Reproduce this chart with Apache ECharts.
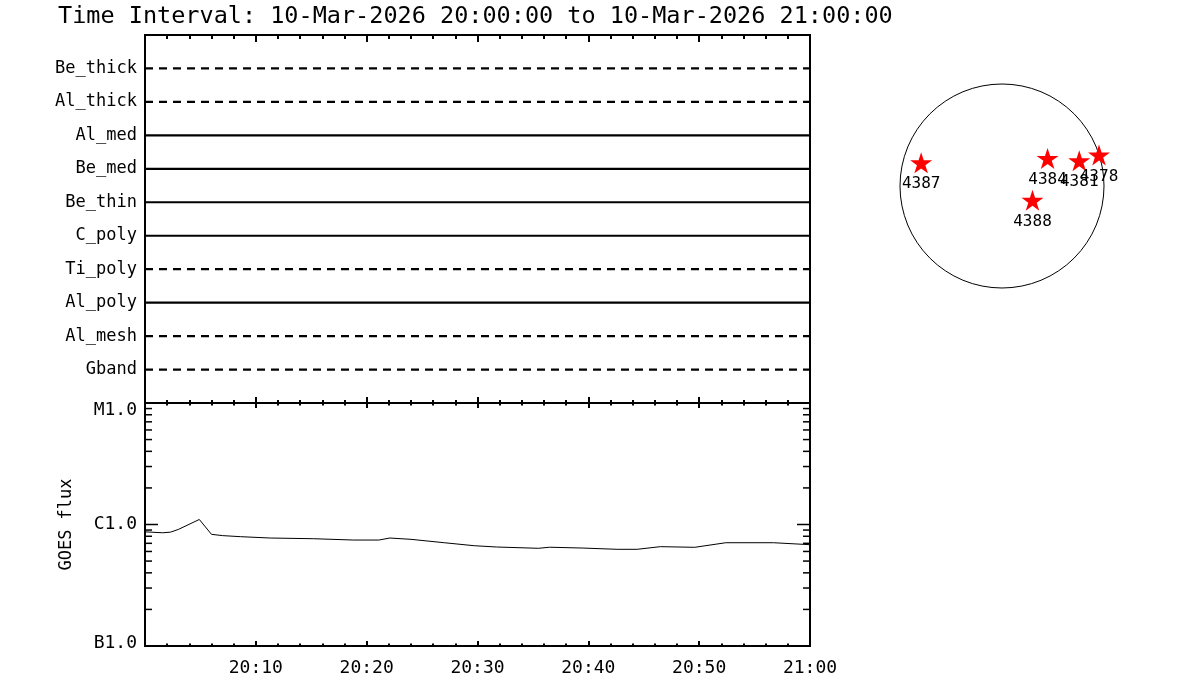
<!DOCTYPE html>
<html>
<head>
<meta charset="utf-8">
<script src="https://cdn.jsdelivr.net/npm/echarts@6/dist/echarts.min.js"></script>
<style>
html,body{margin:0;padding:0;background:#fff;}
#chart{width:1200px;height:700px;}
</style>
</head>
<body>
<div id="chart"></div>
<script>
// ---- data ----
const titleText = 'Time Interval: 10-Mar-2026 20:00:00 to 10-Mar-2026 21:00:00';
const filterNames = ['Be_thick','Al_thick','Al_med','Be_med','Be_thin','C_poly','Ti_poly','Al_poly','Al_mesh','Gband'];
const filterDashed = [true, true, false, false, false, false, true, false, true, true];
const timeTickLabels = ['', '20:10', '20:20', '20:30', '20:40', '20:50', '21:00'];
const goesLevelLabels = ['B1.0', 'C1.0', 'M1.0'];
const goesMajorTicks = [1e-7, 1e-6, 1e-5];
const goesMinorTicks = [2e-7,3e-7,4e-7,5e-7,6e-7,7e-7,8e-7,9e-7,2e-6,3e-6,4e-6,5e-6,6e-6,7e-6,8e-6,9e-6];
const goesMinutes = [0, 1.6, 2.3, 3.0, 4.9, 6.0, 7.0, 8.6, 11.3, 15.2, 18.8, 21.1, 22.1, 24.0, 27.0, 29.7, 31.7, 35.5, 36.5, 39.5, 42.6, 44.4, 46.5, 49.6, 52.4, 56.7, 60];
const goesFlux = [8.7e-7, 8.55e-7, 8.65e-7, 9.1e-7, 1.10e-6, 8.3e-7, 8.1e-7, 7.94e-7, 7.74e-7, 7.64e-7, 7.45e-7, 7.45e-7, 7.74e-7, 7.55e-7, 7.08e-7, 6.69e-7, 6.53e-7, 6.37e-7, 6.50e-7, 6.40e-7, 6.25e-7, 6.25e-7, 6.57e-7, 6.49e-7, 7.08e-7, 7.08e-7, 6.82e-7];
const sunRadiusArcsec = 960;
const regionNames = ['4387', '4384', '4381', '4378', '4388'];
const regionX = [-761, 429, 727, 913, 287];
const regionY = [218, 260, 237, 291, -134];

// ---- chart ----
const FONT = 'DejaVu Sans Mono';
const STAR = 'path://M50 0 L61.23 34.55 L97.55 34.55 L68.17 55.9 L79.39 90.45 L50 69.1 L20.61 90.45 L31.83 55.9 L2.45 34.55 L38.77 34.55 Z';
const chart = echarts.init(document.getElementById('chart'), null, {renderer: 'canvas'});

function timeAxis(gridIndex, position, majorLen, minorLen, showLabels) {
  return {
    type: 'value', gridIndex: gridIndex, position: position,
    min: 0, max: 60, interval: 10,
    axisLine: {show: false, onZero: false},
    axisTick: {show: true, inside: true, length: majorLen, lineStyle: {color: '#000', width: 2}},
    minorTick: {show: true, splitNumber: 5, length: minorLen, lineStyle: {color: '#000', width: 2}},
    splitLine: {show: false},
    axisLabel: showLabels ? {
      show: true, margin: 13, color: '#000', fontFamily: FONT, fontSize: 18,
      formatter: function (v) { return timeTickLabels[Math.round(v / 10)] || ''; }
    } : {show: false}
  };
}

function logAxis(position, showLabels) {
  const lbl = {color: '#000', fontFamily: FONT, fontSize: 18};
  return {
    type: 'log', logBase: 10, gridIndex: 1, position: position,
    min: 1e-7, max: 1e-5,
    axisLine: {show: false, onZero: false},
    axisTick: {show: false},
    splitLine: {show: false},
    name: showLabels ? 'GOES flux' : '',
    nameLocation: 'middle', nameGap: 70, nameRotate: 90,
    nameTextStyle: {color: '#000', fontFamily: FONT, fontSize: 17},
    axisLabel: showLabels ? {
      show: true, margin: 8, color: '#000', fontFamily: FONT, fontSize: 18,
      verticalAlignMinLabel: 'bottom', verticalAlignMaxLabel: 'top',
      rich: {
        lo: Object.assign({lineHeight: 6}, lbl),
        mid: Object.assign({lineHeight: 18}, lbl),
        hi: Object.assign({lineHeight: 14}, lbl)
      },
      formatter: function (v) {
        const k = Math.round(Math.log10(v)) + 7;
        const tag = ['lo', 'mid', 'hi'][k];
        return tag ? '{' + tag + '|' + goesLevelLabels[k] + '}' : '';
      }
    } : {show: false}
  };
}

function logTickSeries(name, values, len) {
  return {
    name: name, type: 'custom', xAxisIndex: 2, yAxisIndex: 1, silent: true,
    data: values.map(function (v) { return [0, v]; }),
    renderItem: function (params, api) {
      const v = api.value(1);
      const pL = api.coord([0, v]);
      const pR = api.coord([60, v]);
      return {type: 'group', children: [
        {type: 'line', shape: {x1: pL[0], y1: pL[1], x2: pL[0] + len, y2: pL[1]}, style: {stroke: '#000', lineWidth: 1.5}},
        {type: 'line', shape: {x1: pR[0] - len, y1: pR[1], x2: pR[0], y2: pR[1]}, style: {stroke: '#000', lineWidth: 1.5}}
      ]};
    }
  };
}

const series = [];
filterNames.forEach(function (name, i) {
  const level = filterNames.length - i;
  series.push({
    name: name, type: 'line', xAxisIndex: 0, yAxisIndex: 0,
    data: [[0, level], [60, level]],
    symbol: 'none', silent: true,
    lineStyle: {color: '#000', width: 2.2, type: filterDashed[i] ? [8, 6] : 'solid'}
  });
});
series.push({
  name: 'GOES', type: 'line', xAxisIndex: 2, yAxisIndex: 1,
  data: goesMinutes.map(function (m, i) { return [m, goesFlux[i]]; }),
  symbol: 'none', lineStyle: {color: '#000', width: 1}
});
series.push(logTickSeries('minorTicks', goesMinorTicks, 7));
series.push(logTickSeries('majorTicks', goesMajorTicks, 13));
series.push({
  name: 'disk', type: 'custom', xAxisIndex: 4, yAxisIndex: 3, silent: true,
  data: [[0, 0, sunRadiusArcsec]],
  renderItem: function (params, api) {
    const c = api.coord([api.value(0), api.value(1)]);
    const r = api.size([api.value(2), 0])[0];
    return {type: 'circle', shape: {cx: c[0], cy: c[1], r: r}, style: {fill: 'none', stroke: '#000', lineWidth: 1}};
  }
});
series.push({
  name: 'regions', type: 'scatter', xAxisIndex: 4, yAxisIndex: 3,
  data: regionNames.map(function (n, i) { return {name: n, value: [regionX[i], regionY[i]]}; }),
  symbol: STAR, symbolSize: [22, 21],
  itemStyle: {color: '#ff0000', opacity: 1},
  label: {show: true, position: 'bottom', distance: 3, formatter: '{b}', color: '#000',
    fontFamily: FONT, fontSize: 16, lineHeight: 16}
});

const option = {
  backgroundColor: '#fff',
  animation: false,
  title: {
    text: titleText, left: 58, top: 5, padding: 0,
    textStyle: {color: '#000', fontFamily: FONT, fontSize: 23.5, fontWeight: 'normal'}
  },
  grid: [
    {left: 145, top: 35, width: 665, height: 368, show: true, borderColor: '#000', borderWidth: 2, backgroundColor: 'transparent'},
    {left: 145, top: 403, width: 665, height: 243, show: true, borderColor: '#000', borderWidth: 2, backgroundColor: 'transparent'},
    {left: 900, top: 84, width: 204, height: 204, show: false}
  ],
  xAxis: [
    timeAxis(0, 'top', 7, 4, false),
    timeAxis(0, 'bottom', 6, 3, false),
    timeAxis(1, 'bottom', 5, 2.5, true),
    timeAxis(1, 'top', 5, 2.5, false),
    {type: 'value', gridIndex: 2, min: -sunRadiusArcsec, max: sunRadiusArcsec, show: false}
  ],
  yAxis: [
    {
      type: 'value', gridIndex: 0, min: 0, max: 11, interval: 1,
      axisLine: {show: false, onZero: false}, axisTick: {show: false}, splitLine: {show: false},
      axisLabel: {
        show: true, margin: 8, color: '#000', fontFamily: FONT, fontSize: 17,
        formatter: function (v) {
          const idx = filterNames.length - Math.round(v);
          return (idx >= 0 && idx < filterNames.length && v > 0) ? filterNames[idx] : '';
        }
      }
    },
    logAxis('left', true),
    logAxis('right', false),
    {type: 'value', gridIndex: 2, min: -sunRadiusArcsec, max: sunRadiusArcsec, show: false}
  ],
  series: series
};
chart.setOption(option);
</script>
</body>
</html>
